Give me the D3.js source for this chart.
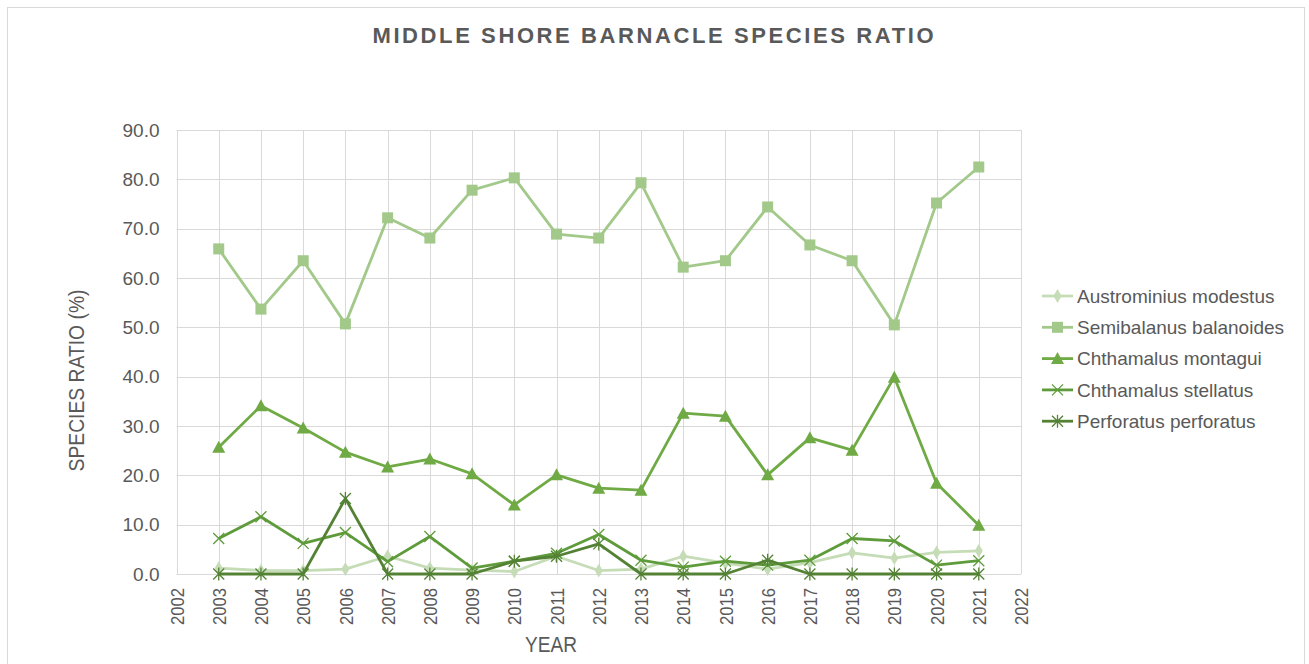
<!DOCTYPE html>
<html>
<head>
<meta charset="utf-8">
<script src="https://cdn.jsdelivr.net/npm/d3@7"></script>
<style>
  html, body { margin: 0; padding: 0; background: #fff; }
  svg { display: block; font-family: "Liberation Sans", Arial, sans-serif; }
</style>
</head>
<body>
<svg id="chart" width="1309" height="664"></svg>
<script>
// Survey years and the ratio (%) of each barnacle species on the middle shore
const years = [2003, 2004, 2005, 2006, 2007, 2008, 2009, 2010, 2011, 2012,
               2013, 2014, 2015, 2016, 2017, 2018, 2019, 2020, 2021];

const austrominius = [1.2, 0.7, 0.7, 1.0, 3.6, 1.2, 0.8, 0.5, 3.6, 0.7,
                      1.0, 3.6, 2.2, 1.0, 2.3, 4.3, 3.2, 4.4, 4.7];
const semibalanus  = [65.9, 53.7, 63.5, 50.7, 72.2, 68.1, 77.8, 80.3, 68.9, 68.1,
                      79.3, 62.2, 63.5, 74.4, 66.7, 63.5, 50.5, 75.2, 82.5];
const montagui     = [25.7, 34.1, 29.6, 24.7, 21.7, 23.3, 20.3, 14.0, 20.1, 17.4,
                      17.0, 32.6, 32.0, 20.1, 27.6, 25.1, 39.9, 18.4, 9.9];
const stellatus    = [7.2, 11.6, 6.2, 8.4, 2.5, 7.6, 1.2, 2.6, 4.2, 8.0,
                      2.8, 1.4, 2.6, 1.8, 2.8, 7.2, 6.7, 1.8, 2.7];
const perforatus   = [0.0, 0.0, 0.0, 15.3, 0.0, 0.0, 0.0, 2.6, 3.6, 6.1,
                      0.0, 0.0, 0.0, 2.8, 0.0, 0.0, 0.0, 0.0, 0.0];

const seriesNames = ["Austrominius modestus", "Semibalanus balanoides", "Chthamalus montagui",
                     "Chthamalus stellatus", "Perforatus perforatus"];
const yTicks = [0, 10, 20, 30, 40, 50, 60, 70, 80, 90];
const xTicks = d3.range(2002, 2023);

const series = [
  { name: seriesNames[0], values: austrominius, color: "#c5dcb6", marker: "diamond" },
  { name: seriesNames[1], values: semibalanus,  color: "#a2c98a", marker: "square" },
  { name: seriesNames[2], values: montagui,     color: "#6faa45", marker: "triangle" },
  { name: seriesNames[3], values: stellatus,    color: "#5e9b3a", marker: "x" },
  { name: seriesNames[4], values: perforatus,   color: "#548235", marker: "star" }
];

const svg = d3.select("#chart");
const textColor = "#595959";
const gridColor = "#d9d9d9";

// chart frame
svg.append("rect")
  .attr("x", 7.5).attr("y", 7.5).attr("width", 1297).attr("height", 670)
  .attr("fill", "#fff").attr("stroke", gridColor).attr("stroke-width", 1);

const plot = { left: 176.5, right: 1021, top: 130, bottom: 574 };

const x = d3.scaleLinear().domain([2002, 2022]).range([plot.left, plot.right]);
const y = d3.scaleLinear().domain([0, 90]).range([plot.bottom, plot.top]);

// title
svg.append("text")
  .attr("x", 654.3).attr("y", 43)
  .attr("text-anchor", "middle")
  .attr("fill", textColor)
  .attr("font-size", 22).attr("font-weight", "bold")
  .attr("letter-spacing", 2.6)
  .text("MIDDLE SHORE BARNACLE SPECIES RATIO");

// gridlines
const grid = svg.append("g");
grid.selectAll("line.h").data(yTicks).join("line")
  .attr("class", "h")
  .attr("x1", plot.left).attr("x2", plot.right)
  .attr("y1", d => Math.round(y(d)) + 0.5).attr("y2", d => Math.round(y(d)) + 0.5)
  .attr("stroke", gridColor).attr("stroke-width", 1);
grid.selectAll("line.v").data(xTicks).join("line")
  .attr("class", "v")
  .attr("y1", plot.top).attr("y2", plot.bottom)
  .attr("x1", d => Math.round(x(d)) + 0.5).attr("x2", d => Math.round(x(d)) + 0.5)
  .attr("stroke", gridColor).attr("stroke-width", 1);

// y axis labels
const yAxis = d3.axisLeft(y).tickValues(yTicks).tickFormat(d3.format(".1f")).tickSize(0).tickPadding(17);
const gy = svg.append("g").attr("transform", `translate(${plot.left},0)`).call(yAxis);
gy.select(".domain").remove();
gy.selectAll("text").attr("fill", textColor).attr("font-size", 19)
  .attr("font-family", "Liberation Sans, Arial, sans-serif");

// x axis labels, rotated
const xAxis = d3.axisBottom(x).tickValues(xTicks).tickFormat(d3.format("d")).tickSize(0);
const gx = svg.append("g").attr("transform", `translate(0,${plot.bottom})`).call(xAxis);
gx.select(".domain").remove();
gx.selectAll("text")
  .attr("fill", textColor).attr("font-size", 19)
  .attr("font-family", "Liberation Sans, Arial, sans-serif")
  .attr("transform", "rotate(-90)")
  .attr("text-anchor", "end")
  .attr("textLength", 37).attr("lengthAdjust", "spacingAndGlyphs")
  .attr("dy", "0.35em").attr("x", -14).attr("y", 0);

// axis titles
svg.append("text")
  .attr("transform", `translate(83.5,380.5) rotate(-90)`)
  .attr("text-anchor", "middle").attr("fill", textColor).attr("font-size", 22)
  .attr("textLength", 182).attr("lengthAdjust", "spacingAndGlyphs")
  .text("SPECIES RATIO (%)");
svg.append("text")
  .attr("x", 551).attr("y", 652)
  .attr("text-anchor", "middle").attr("fill", textColor).attr("font-size", 22)
  .attr("textLength", 52).attr("lengthAdjust", "spacingAndGlyphs")
  .text("YEAR");

// marker drawing
function drawMarker(g, type, color) {
  if (type === "diamond") {
    g.append("path").attr("d", d3.symbol(d3.symbolDiamond, 55)()).attr("fill", color);
  } else if (type === "square") {
    g.append("rect").attr("x", -5.5).attr("y", -5.5).attr("width", 11).attr("height", 11).attr("fill", color);
  } else if (type === "triangle") {
    g.append("path").attr("d", "M0,-6.5L6.5,5.5L-6.5,5.5Z").attr("fill", color);
  } else if (type === "x") {
    g.append("path").attr("d", "M-5.5,-5.5L5.5,5.5M-5.5,5.5L5.5,-5.5").attr("stroke", color).attr("stroke-width", 1.3).attr("fill", "none");
  } else if (type === "star") {
    g.append("path").attr("d", "M-5.5,-5.5L5.5,5.5M-5.5,5.5L5.5,-5.5M0,-6.5L0,6.5").attr("stroke", color).attr("stroke-width", 1.3).attr("fill", "none");
  }
}

const line = d3.line().x((d, i) => x(years[i])).y(d => y(d));

const lines = svg.append("g");
series.forEach(s => {
  const g = lines.append("g");
  g.append("path").datum(s.values)
    .attr("d", line)
    .attr("fill", "none").attr("stroke", s.color).attr("stroke-width", 2.8)
    .attr("stroke-linejoin", "round");
  s.values.forEach((v, i) => {
    const m = g.append("g").attr("transform", `translate(${x(years[i])},${y(v)})`);
    drawMarker(m, s.marker, s.color);
  });
});

// legend
const legend = svg.append("g");
series.forEach((s, i) => {
  const ly = 296 + i * 31.3;
  const item = legend.append("g").attr("transform", `translate(0,${ly})`);
  item.append("line").attr("x1", 1042).attr("x2", 1073).attr("y1", 0).attr("y2", 0)
    .attr("stroke", s.color).attr("stroke-width", 2.8);
  const m = item.append("g").attr("transform", "translate(1057.5,0)");
  drawMarker(m, s.marker, s.color);
  item.append("text").attr("x", 1077).attr("y", 0).attr("dy", "0.35em")
    .attr("fill", textColor).attr("font-size", 19)
    .text(s.name);
});
</script>
</body>
</html>
